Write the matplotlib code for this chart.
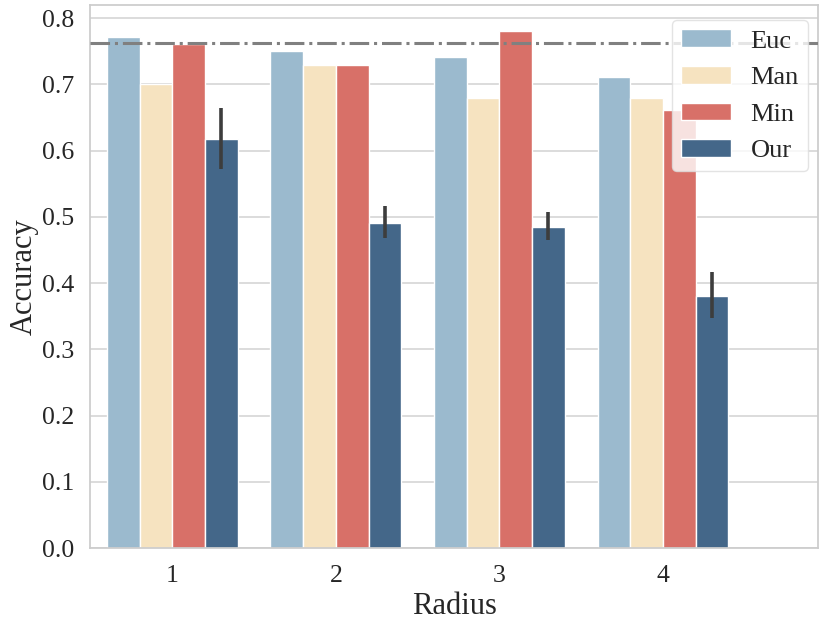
import matplotlib
matplotlib.use("Agg")
import matplotlib.pyplot as plt
import numpy as np

radius = ["1", "2", "3", "4"]
methods = ["Euc", "Man", "Min", "Our"]
euc = [0.771, 0.751, 0.741, 0.711]
man = [0.701, 0.730, 0.680, 0.680]
mini = [0.761, 0.730, 0.781, 0.661]
our = [0.617, 0.491, 0.485, 0.381]
our_lo = [0.572, 0.469, 0.466, 0.347]
our_hi = [0.665, 0.516, 0.507, 0.417]
baseline = 0.763

colors = ["#9bbace", "#f6e3c0", "#d87068", "#446789"]

plt.rcParams['font.family'] = ['Liberation Serif', 'DejaVu Serif']

fig = plt.figure(figsize=(8.3, 6.23), dpi=100)
ax = fig.add_axes([0.109, 0.120, 0.877, 0.872])

x = np.arange(len(radius))
w = 0.2
series = [euc, man, mini, our]
for i, (name, vals) in enumerate(zip(methods, series)):
    ax.bar(x + (i - 1.5) * w, vals, width=w, color=colors[i], edgecolor="white",
           linewidth=1.0, label=name, zorder=2)

xo = x + 1.5 * w
ax.vlines(xo, our_lo, our_hi, color="#3d3d3d", linewidth=2.6, zorder=3)

ax.axhline(baseline, color="#808080", linestyle="-.", linewidth=2.2, zorder=4)

ax.set_xlim(-0.5, 3.95)
ax.set_ylim(0, 0.82)
ax.set_xticks(x)
ax.set_xticklabels(radius)
ax.set_yticks(np.arange(0, 0.81, 0.1))
ax.set_yticklabels([f"{v:.1f}" for v in np.arange(0, 0.81, 0.1)])
ax.tick_params(axis="both", labelsize=18.5, length=0, pad=12, colors="#262626")
ax.set_xlabel("Radius", fontsize=22, color="#262626", labelpad=4)
ax.set_ylabel("Accuracy", fontsize=22, color="#262626", labelpad=2)

ax.yaxis.grid(True, color="#d5d5d5", linewidth=1.2, zorder=0)
ax.xaxis.grid(False)
ax.set_axisbelow(True)
for s in ax.spines.values():
    s.set_color("#cccccc")
    s.set_linewidth(1.25)

leg = ax.legend(loc="upper right", fontsize=19, handlelength=1.9, handleheight=0.65,
                handletextpad=0.75, labelspacing=0.51, borderpad=0.35, framealpha=0.8,
                borderaxespad=0, bbox_to_anchor=(0.986, 0.972))
leg.get_frame().set_edgecolor("#dddddd")
leg.get_frame().set_linewidth(1.0)
for t in leg.get_texts():
    t.set_color("#262626")
leg.set_zorder(5)

fig.savefig("out.png", dpi=100)
